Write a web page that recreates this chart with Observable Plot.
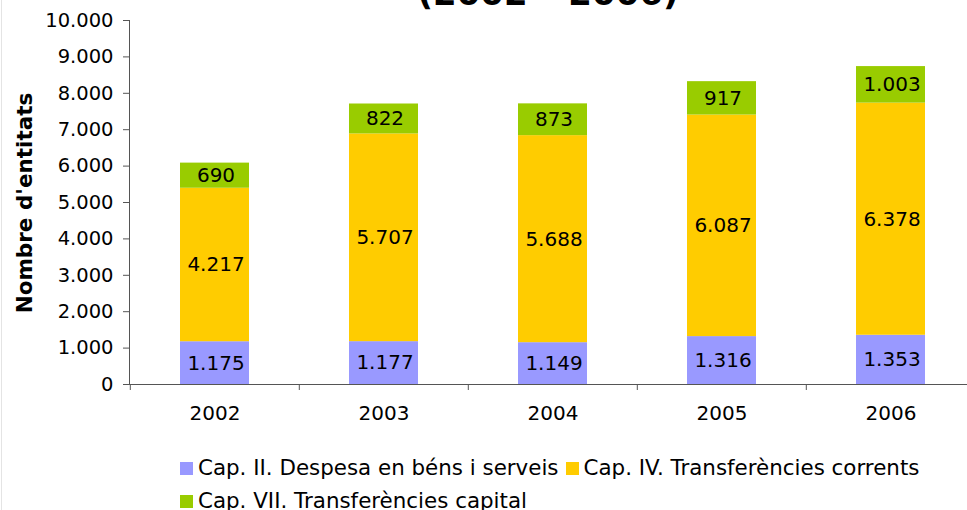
<!DOCTYPE html>
<html>
<head>
<meta charset="utf-8">
<script src="https://cdn.jsdelivr.net/npm/d3@7"></script>
<script src="https://cdn.jsdelivr.net/npm/@observablehq/plot@0.6"></script>
<style>
  html, body { margin: 0; padding: 0; background: #fff; }
  body { width: 967px; height: 510px; overflow: hidden; position: relative; font-family: "DejaVu Sans", Verdana, sans-serif; }
  #frame { position: absolute; left: 1px; top: 0; bottom: 0; width: 0; border-left: 1px solid #e4e4e4; }
  #title { position: absolute; left: 0; width: 1096px; top: -27px; text-align: center; font-weight: bold; font-size: 34px; color: #000; white-space: nowrap; }
  #chart { position: absolute; left: 0; top: 0; }
  #ylabel { position: absolute; left: 24px; top: 203px; transform: translate(-50%, -50%) rotate(-90deg); font-weight: bold; font-size: 21.5px; white-space: nowrap; color: #000; }
  #legend { position: absolute; left: 180px; top: 455px; width: 760px; font-size: 21.4px; color: #000; display: flex; flex-wrap: wrap; }
  .item { display: inline-flex; align-items: center; height: 26px; line-height: 26px; margin-right: 7px; margin-bottom: 7px; white-space: nowrap; }
  .sw { width: 13px; height: 13px; margin-right: 5px; display: inline-block; }
</style>
</head>
<body>
<div id="frame"></div>
<div id="chart"></div>
<div id="title">(2002 – 2006)</div>
<div id="ylabel"></div>
<div id="legend"></div>
<script>
const years = ["2002", "2003", "2004", "2005", "2006"];
const seriesNames = [
  "Cap. II. Despesa en béns i serveis",
  "Cap. IV. Transferències corrents",
  "Cap. VII. Transferències capital"
];
const seriesColors = ["#9999FF", "#FFCC00", "#99CC00"];
const capII = [1175, 1177, 1149, 1316, 1353];
const capIV = [4217, 5707, 5688, 6087, 6378];
const capVII = [690, 822, 873, 917, 1003];
const yTicks = [0, 1000, 2000, 3000, 4000, 5000, 6000, 7000, 8000, 9000, 10000];
const yLabel = "Nombre d'entitats";

const seriesValues = [capII, capIV, capVII];
const data = [];
seriesNames.forEach((s, si) => {
  years.forEach((yr, i) => data.push({year: yr, series: s, value: seriesValues[si][i]}));
});

const locale = d3.formatLocale({decimal: ",", thousands: ".", grouping: [3], currency: ["", "€"]});
const fmt = locale.format(",d");

const W = 967, H = 440;
const xRange = [129, 976];
const step = (xRange[1] - xRange[0]) / years.length;

const chart = Plot.plot({
  width: W,
  height: H,
  marginLeft: 129,
  marginRight: 0,
  marginTop: 20,
  marginBottom: 56,
  style: {fontFamily: "'DejaVu Sans', Verdana, sans-serif", fontSize: "19.5px", color: "#000", background: "transparent", overflow: "visible"},
  x: {domain: years, range: xRange, paddingInner: 0.59, paddingOuter: 0.295},
  y: {domain: [0, 10000]},
  color: {domain: seriesNames, range: seriesColors},
  marks: [
    Plot.barY(data, Plot.stackY({x: "year", y: "value", z: "series", fill: "series", order: seriesNames})),
    Plot.text(data, Plot.stackY({x: "year", y: "value", z: "series", order: seriesNames, text: d => fmt(d.value), fontSize: 20, fill: "#000", dx: 1})),
    Plot.axisY({ticks: yTicks, tickFormat: fmt, tickSize: 6, tickPadding: 10, stroke: "#555", label: null, fontSize: 19.5}),
    Plot.axisX({tickSize: 0, tickPadding: 21, label: null, fontSize: 20}),
    Plot.ruleX(years, {x: d => d, y1: () => 0, y2: () => 0, dx: -step / 2, stroke: "#555", insetTop: 0, insetBottom: -6}),
    Plot.ruleY([0], {stroke: "#555", strokeWidth: 1.2}),
    Plot.frame({anchor: "left", stroke: "#555"})
  ]
});
document.getElementById("chart").appendChild(chart);
document.getElementById("ylabel").textContent = yLabel;

const legend = document.getElementById("legend");
seriesNames.forEach((s, i) => {
  const it = document.createElement("span");
  it.className = "item";
  const sw = document.createElement("span");
  sw.className = "sw";
  sw.style.background = seriesColors[i];
  it.appendChild(sw);
  it.appendChild(document.createTextNode(s));
  legend.appendChild(it);
});
</script>
</body>
</html>
